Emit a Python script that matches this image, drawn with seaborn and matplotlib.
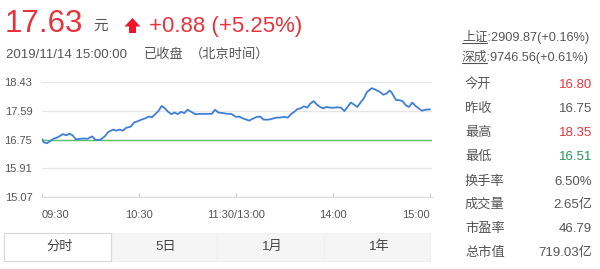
import numpy as np
import pandas as pd
import matplotlib
matplotlib.use("Agg")
import matplotlib.pyplot as plt
import seaborn as sns
from matplotlib.patches import Rectangle, Polygon
from matplotlib.lines import Line2D

# ---------------- data ----------------
minutes = [0, 1, 3, 5, 7, 9, 11, 13, 15, 17, 19, 21, 23, 26, 28, 31, 33, 36, 39, 41,
           44, 46, 48, 50, 52, 55, 57, 59, 62, 64, 66, 68, 70, 72, 74, 76, 78, 80, 82, 84,
           86, 88, 90, 93, 95, 98, 102, 105, 107, 109, 112, 115, 117, 120, 122, 124, 126, 128, 131, 133,
           135, 137, 140, 142, 145, 147, 150, 152, 154, 156, 158, 160, 162, 164, 166, 168, 170, 172, 174, 176,
           178, 181, 183, 185, 187, 189, 191, 193, 195, 197, 199, 201, 204, 206, 209, 211, 213, 215, 216, 219,
           221, 223, 225, 227, 229, 231, 233, 235, 237, 240]
prices = [16.77, 16.67, 16.64, 16.70, 16.77, 16.80, 16.85, 16.91, 16.87, 16.92, 16.87, 16.75, 16.77, 16.78, 16.77, 16.84, 16.74, 16.74, 16.85, 16.97,
          17.04, 17.01, 17.04, 17.01, 17.09, 17.13, 17.25, 17.28, 17.34, 17.37, 17.42, 17.40, 17.49, 17.58, 17.73, 17.66, 17.56, 17.49, 17.54, 17.49,
          17.56, 17.52, 17.62, 17.54, 17.49, 17.50, 17.50, 17.50, 17.62, 17.54, 17.52, 17.50, 17.50, 17.41, 17.42, 17.37, 17.34, 17.30, 17.37, 17.41,
          17.42, 17.33, 17.33, 17.35, 17.39, 17.39, 17.41, 17.39, 17.49, 17.56, 17.64, 17.66, 17.72, 17.68, 17.80, 17.87, 17.77, 17.70, 17.66, 17.70,
          17.68, 17.68, 17.69, 17.68, 17.58, 17.70, 17.83, 17.77, 17.70, 17.83, 17.95, 18.14, 18.25, 18.21, 18.14, 18.06, 18.09, 18.18, 18.14, 17.90,
          17.90, 17.87, 17.75, 17.70, 17.83, 17.73, 17.66, 17.59, 17.62, 17.63]
prev_close = 16.75
y_ticks = [15.07, 15.91, 16.75, 17.59, 18.43]
x_ticks = [0, 60, 120, 180, 240]
x_labels = ["09:30", "10:30", "11:30/13:00", "14:00", "15:00"]

last_price = "17.63"
currency = "元"
change_text = "+0.88 (+5.25%)"
timestamp = "2019/11/14 15:00:00"
status = "已收盘"
tz_note = "（北京时间）"

index_names = ["上证", "深成"]
index_values = [":2909.87(+0.16%)", ":9746.56(+0.61%)"]
stat_labels = ["今开", "昨收", "最高", "最低", "换手率", "成交量", "市盈率", "总市值"]
stat_values = ["16.80", "16.75", "18.35", "16.51", "6.50%", "2.65亿", "46.79", "719.03亿"]
tabs = ["分时", "5日", "1月", "1年"]

RED = "#e8333c"
GREEN = "#1f9a57"
GREY = "#555555"
stat_colors = [RED, GREY, RED, GREEN, GREY, GREY, GREY, GREY]

# ---------------- style ----------------
sns.set_theme(style="white")
plt.rcParams['font.family'] = ['Liberation Sans', 'Noto Sans CJK SC', 'DejaVu Sans']

W, H = 600, 269
fig = plt.figure(figsize=(6, 2.69), dpi=100)
fig.patch.set_facecolor("white")

def fx(x):
    return x / W

def fy(y):
    return 1 - y / H

# ---------------- chart ----------------
ax = fig.add_axes([fx(42), fy(197), (432 - 42) / W, (197 - 82) / H])
ax.set_facecolor("white")
ax.set_yticks(y_ticks)
ax.set_yticklabels([f"{v:.2f}" for v in y_ticks])
ax.yaxis.grid(True, color="#e6e6e6", linewidth=0.9, zorder=0)
ax.xaxis.grid(False)
ax.axhline(prev_close, color="#5dbf6b", linewidth=1.0, zorder=2)
df = pd.DataFrame({"minute": minutes, "price": prices})
sns.lineplot(data=df, x="minute", y="price", ax=ax, color="#3f7fd6",
             linewidth=1.3, zorder=3)
ax.set_xlim(0, 241.2)
ax.set_ylim(15.07, 18.43)
ax.set_xticks(x_ticks)
ax.set_xticklabels(x_labels)
ax.set_xlabel("")
ax.set_ylabel("")
for s in ["left", "right", "top"]:
    ax.spines[s].set_visible(False)
ax.spines["bottom"].set_color("#dddddd")
ax.spines["bottom"].set_linewidth(0.9)
ax.tick_params(axis="y", length=0, pad=7, labelsize=8, labelcolor=GREY)
ax.tick_params(axis="x", direction="in", length=3, width=0.8, color="#cccccc",
               pad=9, labelsize=8, labelcolor=GREY, bottom=True)
xtl = ax.get_xticklabels()
xtl[0].set_horizontalalignment("left")
xtl[-1].set_horizontalalignment("right")

# ---------------- header ----------------
fig.text(fx(5), fy(32), last_price, color=RED, fontsize=22.5, va="baseline", ha="left")
fig.text(fx(93), fy(30), currency, color=GREY, fontsize=10.5, va="baseline", ha="left")
arrow_px = [(132.5, 18), (140.5, 26.5), (136, 26.5), (136, 33), (129, 33), (129, 26.5), (124.5, 26.5)]
fig.patches.append(Polygon([(fx(x), fy(y)) for x, y in arrow_px], closed=True,
                           transform=fig.transFigure, facecolor="#f0142a", edgecolor="none"))
fig.text(fx(149), fy(32), change_text, color=RED, fontsize=16, va="baseline", ha="left")
fig.text(fx(6), fy(58), timestamp, color=GREY, fontsize=9.5, va="baseline", ha="left")
fig.text(fx(144), fy(58), status, color=GREY, fontsize=9.5, va="baseline", ha="left")
fig.text(fx(190), fy(58), tz_note, color=GREY, fontsize=9.5, va="baseline", ha="left")

# ---------------- right panel ----------------
idx_y = [41, 61]
for name, val, y in zip(index_names, index_values, idx_y):
    fig.text(fx(462), fy(y), name + val, color=GREY, fontsize=9.2, va="baseline", ha="left")
    fig.add_artist(Line2D([fx(462), fx(487)], [fy(y + 2), fy(y + 2)],
                          transform=fig.transFigure, color=GREY, linewidth=0.8))

row_y = [85, 109, 133, 157, 182, 205, 229, 253]
for lab, val, col, y in zip(stat_labels, stat_values, stat_colors, row_y):
    fig.text(fx(465), fy(y), lab, color=GREY, fontsize=9.5, va="center", ha="left")
    fig.text(fx(592), fy(y), val, color=col, fontsize=9.5, va="center", ha="right")

# ---------------- tabs ----------------
tab_edges = [4, 111, 217, 324, 430]
ty0, ty1 = 233, 261
for i, name in enumerate(tabs):
    x0, x1 = tab_edges[i], tab_edges[i + 1]
    if i == 0:
        fc, ec = "white", "#d8d8d8"
    else:
        fc, ec = "#f5f5f5", "#f0f0f0"
    fig.patches.append(Rectangle((fx(x0), fy(ty1)), (x1 - x0) / W, (ty1 - ty0) / H,
                                 transform=fig.transFigure, facecolor=fc, edgecolor=ec,
                                 linewidth=0.8, zorder=0 if i else 1))
    fig.text(fx((x0 + x1) / 2 + 2), fy(247), name, color="#444444", fontsize=9.5,
             va="center", ha="center")

fig.savefig("out.png", dpi=100, facecolor="white")
